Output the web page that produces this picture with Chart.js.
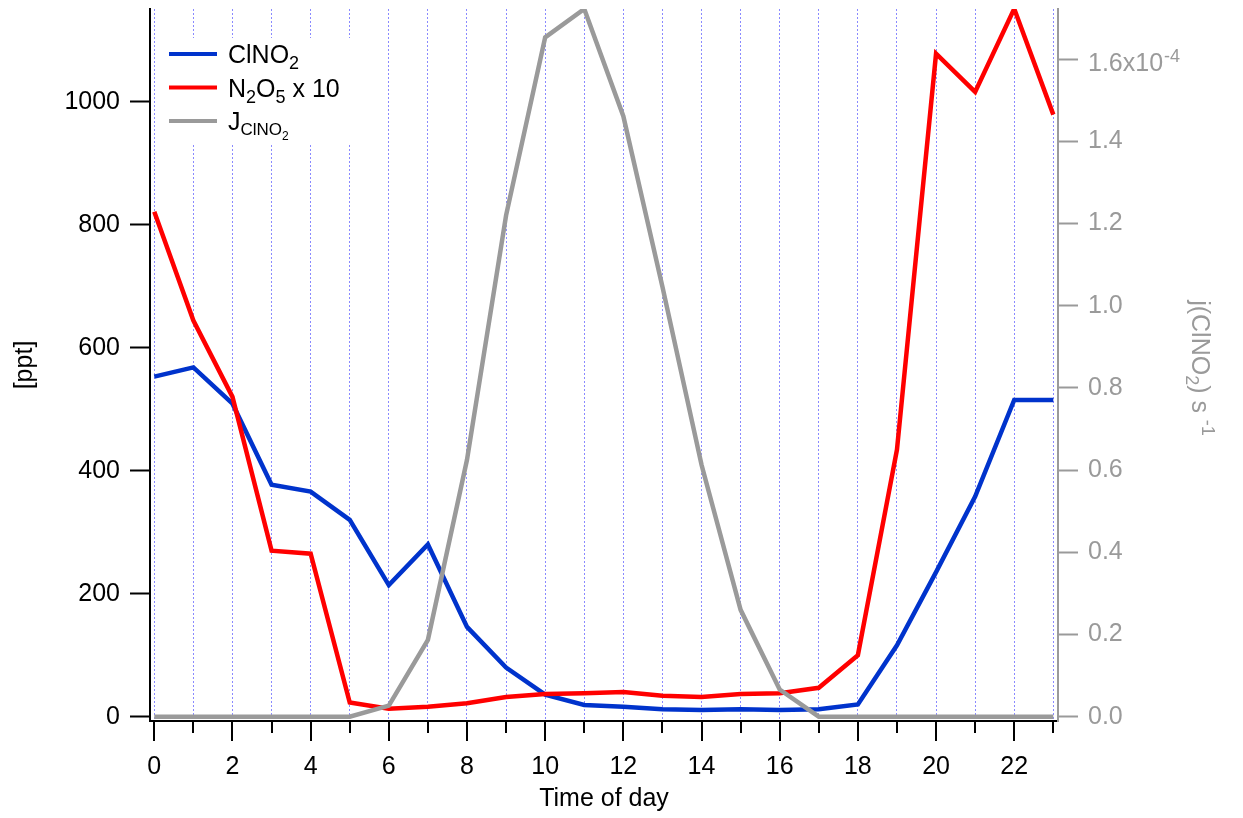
<!DOCTYPE html>
<html>
<head>
<meta charset="utf-8">
<script src="https://cdn.jsdelivr.net/npm/chart.js@4.4.1/dist/chart.umd.min.js"></script>
<style>
  html, body { margin: 0; padding: 0; background: #fff; }
</style>
</head>
<body>
<canvas id="chart" width="1243" height="818"></canvas>
<script>
// hour of day
const hours = [0, 1, 2, 3, 4, 5, 6, 7, 8, 9, 10, 11, 12, 13, 14, 15, 16, 17, 18, 19, 20, 21, 22, 23];
// ClNO2 [ppt]
const clno2 = [553, 568, 509, 377, 366, 320, 214, 280, 146, 80, 36, 19, 16, 12, 11, 12, 11, 12, 20, 116, 235, 358, 515, 515];
// N2O5 x 10 [ppt]
const n2o5x10 = [821, 644, 520, 270, 265, 23, 13, 16, 22, 32, 37, 38, 40, 34, 32, 37, 38, 47, 100, 434, 1078, 1016, 1151, 979];
// j(ClNO2) in units of 1e-4 s-1
const jclno2 = [0, 0, 0, 0, 0, 0, 0.027, 0.187, 0.625, 1.22, 1.653, 1.722, 1.461, 1.046, 0.613, 0.26, 0.066, 0, 0, 0, 0, 0, 0, 0];

const leftTicks = [0, 200, 400, 600, 800, 1000];
const rightTicks = [0, 0.2, 0.4, 0.6, 0.8, 1.0, 1.2, 1.4, 1.6];

const FONT = "'Liberation Sans', Arial, sans-serif";
const BLUE = '#0033cc';
const RED = '#ff0000';
const GRAY = '#9a9a9a';

// draws text made of pieces with their own size and baseline shift
function drawRich(ctx, parts, x, y) {
  let cx = x;
  parts.forEach(([text, size, dy]) => {
    ctx.font = size + 'px ' + FONT;
    ctx.fillText(text, cx, y + dy);
    cx += ctx.measureText(text).width;
  });
  return cx - x;
}

function richWidth(ctx, parts) {
  let w = 0;
  parts.forEach(([text, size]) => {
    ctx.font = size + 'px ' + FONT;
    w += ctx.measureText(text).width;
  });
  return w;
}

// no extra room for half labels at the ends of the axes
function noPad(s) {
  s.paddingTop = 0;
  s.paddingBottom = 0;
  s.paddingLeft = 0;
  s.paddingRight = 0;
}

const legendRows = [
  { color: BLUE, parts: [['ClNO', 25, 0], ['2', 18, 6]] },
  { color: RED, parts: [['N', 25, 0], ['2', 18, 6], ['O', 25, 0], ['5', 18, 6], [' x 10', 25, 0]] },
  { color: GRAY, parts: [['J', 25, 0], ['ClNO', 17, 5], ['2', 12, 10]] }
];

const extras = {
  id: 'extras',
  afterDatasetsDraw(chart) {
    const { ctx } = chart;
    ctx.save();
    // legend box
    ctx.fillStyle = '#fff';
    ctx.fillRect(157, 38, 205, 105);
    legendRows.forEach((row, i) => {
      const ly = 54 + i * 33.5;
      ctx.strokeStyle = row.color;
      ctx.lineWidth = 4;
      ctx.beginPath();
      ctx.moveTo(169, ly);
      ctx.lineTo(217, ly);
      ctx.stroke();
      ctx.fillStyle = '#000';
      ctx.textBaseline = 'alphabetic';
      ctx.textAlign = 'left';
      drawRich(ctx, row.parts, 228, ly + 9);
    });
    ctx.restore();
  },
  afterDraw(chart) {
    const { ctx, chartArea, scales } = chart;
    const x = scales.x, y2 = scales.y2;
    ctx.save();
    // x ticks: long on even hours, short on odd
    ctx.strokeStyle = '#000';
    ctx.lineWidth = 2;
    hours.forEach(h => {
      const px = Math.round(x.getPixelForValue(h));
      const len = h % 2 === 0 ? 20 : 12;
      ctx.beginPath();
      ctx.moveTo(px, chartArea.bottom);
      ctx.lineTo(px, chartArea.bottom + len);
      ctx.stroke();
    });

    // top label of right axis with exponent
    const py = y2.getPixelForValue(1.6);
    ctx.fillStyle = GRAY;
    ctx.textAlign = 'left';
    ctx.textBaseline = 'middle';
    ctx.font = '25px ' + FONT;
    ctx.fillText('1.6x10', chartArea.right + 30, py + 5);
    const w = ctx.measureText('1.6x10').width;
    ctx.textBaseline = 'alphabetic';
    ctx.font = '18px ' + FONT;
    ctx.fillText('-4', chartArea.right + 31 + w, py + 3);

    // right axis title, rotated clockwise
    const titleParts = [['j(ClNO', 25, 0], ['2', 18, 6], [') s ', 25, 0], ['-1', 18, -10]];
    const tw = richWidth(ctx, titleParts);
    ctx.translate(1192, 368 - tw / 2);
    ctx.rotate(Math.PI / 2);
    ctx.fillStyle = GRAY;
    drawRich(ctx, titleParts, 0, 0);
    ctx.restore();
  }
};

const points = arr => hours.map((h, i) => ({ x: h, y: arr[i] }));

new Chart(document.getElementById('chart'), {
  type: 'line',
  data: {
    datasets: [
      { label: 'ClNO2', data: points(clno2), borderColor: BLUE, borderWidth: 4.5, pointRadius: 0, yAxisID: 'y', order: 3, borderJoinStyle: 'miter' },
      { label: 'N2O5 x 10', data: points(n2o5x10), borderColor: RED, borderWidth: 4.5, pointRadius: 0, yAxisID: 'y', order: 2, borderJoinStyle: 'miter' },
      { label: 'JClNO2', data: points(jclno2), borderColor: GRAY, borderWidth: 4.5, pointRadius: 0, yAxisID: 'y2', order: 1, borderJoinStyle: 'miter' }
    ]
  },
  options: {
    responsive: false,
    animation: false,
    devicePixelRatio: 1,
    layout: { padding: { top: 9, left: 0, right: 0, bottom: 0 } },
    plugins: { legend: { display: false }, tooltip: { enabled: false } },
    scales: {
      x: {
        type: 'linear',
        min: -0.11,
        max: 23.12,
        afterBuildTicks: s => { s.ticks = hours.map(v => ({ value: v })); },
        afterFit: s => { s.height = 97; noPad(s); },
        grid: { drawOnChartArea: true, drawTicks: true, tickLength: 20, tickColor: 'rgba(0,0,0,0)', color: '#8a8aff', lineWidth: 1 },
        border: { display: true, color: '#000', width: 2, dash: [2, 2] },
        ticks: {
          autoSkip: false, maxRotation: 0, padding: 11, color: '#000',
          font: { family: FONT, size: 25 },
          callback: v => (v % 2 === 0 ? String(v) : '')
        },
        title: { display: true, text: 'Time of day', color: '#000', font: { family: FONT, size: 25 }, padding: { top: 0, bottom: 4 } }
      },
      y: {
        position: 'left',
        min: -7,
        max: 1150.7,
        afterBuildTicks: s => { s.ticks = leftTicks.map(v => ({ value: v })); },
        afterFit: s => { s.width = 150; noPad(s); },
        grid: { drawOnChartArea: false, drawTicks: true, tickLength: 20, tickColor: '#000', tickWidth: 2 },
        border: { display: true, color: '#000', width: 2 },
        ticks: { padding: 10, color: '#000', font: { family: FONT, size: 25 }, callback: v => String(v) },
        title: { display: true, text: '[ppt]', color: '#000', font: { family: FONT, size: 25 }, padding: { top: 10, bottom: 0 } }
      },
      y2: {
        position: 'right',
        min: -0.0105,
        max: 1.722,
        afterBuildTicks: s => { s.ticks = rightTicks.map(v => ({ value: v })); },
        afterFit: s => { s.width = 185; noPad(s); },
        grid: { drawOnChartArea: false, drawTicks: true, tickLength: 20, tickColor: GRAY, tickWidth: 2 },
        border: { display: true, color: GRAY, width: 2 },
        ticks: {
          padding: 10, color: GRAY, font: { family: FONT, size: 25 },
          callback: v => (Math.abs(v - 1.6) < 1e-9 ? '' : v.toFixed(1))
        }
      }
    }
  },
  plugins: [extras]
});
</script>
</body>
</html>
